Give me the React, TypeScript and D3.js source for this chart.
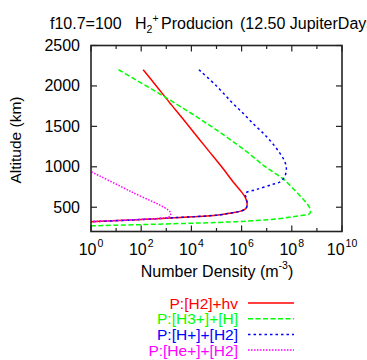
import React from 'react'
import * as d3 from 'd3'

// readings: [number density (m^-3), altitude (km)]
const h2Photo: [number, number][] = [
  [1.2e2, 2200], [4.0e2, 2000], [1.3e3, 1800], [4.4e3, 1600], [1.45e4, 1400],
  [4.8e4, 1200], [1.6e5, 1000], [5.0e5, 800], [9.3e5, 700], [1.35e6, 630],
  [1.6e6, 570], [1.65e6, 520], [1.45e6, 480], [1.0e6, 455], [4.0e5, 430],
  [1.2e5, 404], [2.2e3, 371], [4.1e1, 342], [1, 321], [0.3, 315],
]
const h3H: [number, number][] = [
  [1.25e1, 2200], [4.5e1, 2100], [1.6e2, 2000], [5.6e2, 1900], [1.9e3, 1800],
  [2.0e4, 1600], [1.8e5, 1400], [1.4e6, 1200], [8.9e6, 1000], [4.5e7, 850],
  [1.4e8, 700], [3.2e8, 580], [5.0e8, 500], [5.5e8, 440], [4.8e8, 415],
  [2.0e8, 395], [2.5e7, 355], [1.0e6, 325], [5.6e4, 309], [7.4e3, 301],
  [1.0e2, 285], [1, 270], [0.3, 266],
]
const hpH2: [number, number][] = [
  [2.0e4, 2200], [1.0e5, 2000], [4.0e5, 1800], [1.25e6, 1650], [3.2e6, 1520],
  [7.6e6, 1410], [1.6e7, 1300], [3.0e7, 1190], [5.0e7, 1080], [6.0e7, 1000],
  [5.9e7, 930], [5.0e7, 870], [3.5e7, 815], [1.6e7, 780], [4.0e6, 720],
  [1.4e6, 670], [1.6e6, 600], [1.65e6, 530], [1.45e6, 480], [1.0e6, 455],
  [4.0e5, 430], [1.2e5, 404], [2.2e3, 371], [4.1e1, 342], [1, 321], [0.3, 315],
]
const hepH2: [number, number][] = [
  [0.5, 985], [1, 940], [4.0e1, 692], [1.4e3, 445], [1.45e3, 400],
  [1.25e3, 380], [1.0e2, 350], [1, 323], [0.3, 317],
]

const series = [
  { name: 'P:[H2]+hv', data: h2Photo, color: '#ff0000', dash: null },
  { name: 'P:[H3+]+[H]', data: h3H, color: '#00ff00', dash: '5,2.5' },
  { name: 'P:[H+]+[H2]', data: hpH2, color: '#0000ff', dash: '2.5,3' },
  { name: 'P:[He+]+[H2]', data: hepH2, color: '#ff00ff', dash: '1.5,1.5' },
]

const xTicks = [1, 1e1, 1e2, 1e3, 1e4, 1e5, 1e6, 1e7, 1e8, 1e9, 1e10]
const xLabelExps = [0, 2, 4, 6, 8, 10]
const yTicks = [500, 1000, 1500, 2000, 2500]

const W = 367, H = 360
const left = 91, right = 342, top = 45.5, bottom = 231.5
const font = 'Liberation Sans, Arial, sans-serif'

export default function App() {
  const x = d3.scaleLog().domain([1, 1e10]).range([left, right])
  const y = d3.scaleLinear().domain([200, 2500]).range([bottom, top])
  const line = d3.line<[number, number]>()
    .x(d => x(d[0]))
    .y(d => y(d[1]))
    .curve(d3.curveCatmullRom.alpha(0.5))

  return (
    <svg width={W} height={H} style={{ position: 'absolute', left: 0, top: 0, background: '#fff' }}
      fontFamily={font}>
      <defs>
        <clipPath id="plot">
          <rect x={left} y={top} width={right - left} height={bottom - top} />
        </clipPath>
      </defs>

      {/* title (runs off the right edge like the original) */}
      <text y={28.5} fontSize={16}>
        <tspan x={50}>f10.7=100</tspan>
        <tspan x={135}>H</tspan>
        <tspan fontSize={10.5} dy={4}>2</tspan>
        <tspan fontSize={10.5} dy={-11}>+</tspan>
        <tspan dy={7} x={161}>Producion</tspan>
        <tspan x={240}>(12.50 JupiterDays)</tspan>
      </text>

      <g clipPath="url(#plot)">
        {series.map(s => (
          <path key={s.name} d={line(s.data) || ''} fill="none" stroke={s.color}
            strokeWidth={1.5} strokeDasharray={s.dash || undefined} />
        ))}
      </g>

      {/* frame and ticks */}
      <rect x={left} y={top} width={right - left} height={bottom - top} fill="none"
        stroke="#222" strokeWidth={1.6} />
      {xTicks.map((t, i) => {
        const len = i % 2 === 0 ? 6 : 3.5
        return (
          <g key={'xt' + i} stroke="#222" strokeWidth={1.2}>
            <line x1={x(t)} x2={x(t)} y1={bottom} y2={bottom - len} />
            <line x1={x(t)} x2={x(t)} y1={top} y2={top + len} />
          </g>
        )
      })}
      {yTicks.map(t => (
        <g key={'yt' + t} stroke="#222" strokeWidth={1.2}>
          <line x1={left} x2={left + 6} y1={y(t)} y2={y(t)} />
          <line x1={right} x2={right - 6} y1={y(t)} y2={y(t)} />
        </g>
      ))}

      {/* tick labels */}
      {yTicks.map(t => (
        <text key={'yl' + t} x={80} y={y(t) + 5.5} fontSize={16} textAnchor="end">{t}</text>
      ))}
      {xLabelExps.map(e => (
        <text key={'xl' + e} x={x(Math.pow(10, e))} y={255} fontSize={16} textAnchor="middle">
          10<tspan fontSize={10.5} dx={1} dy={-8}>{e}</tspan>
        </text>
      ))}

      {/* axis titles */}
      <text x={217} y={276.5} fontSize={16} textAnchor="middle">
        Number Density (m<tspan fontSize={10.5} dy={-8}>-3</tspan><tspan dy={8}>)</tspan>
      </text>
      <text transform="translate(21,140) rotate(-90)" fontSize={15.5} textAnchor="middle">
        Altitude (km)
      </text>

      {/* legend */}
      {series.map((s, i) => {
        const ly = 303 + i * 15.7
        return (
          <g key={'lg' + s.name}>
            <text x={238} y={ly + 5.5} fontSize={15.5} textAnchor="end" fill={s.color}>{s.name}</text>
            <line x1={248} x2={294} y1={ly} y2={ly} stroke={s.color} strokeWidth={1.5}
              strokeDasharray={s.dash || undefined} />
          </g>
        )
      })}
    </svg>
  )
}
